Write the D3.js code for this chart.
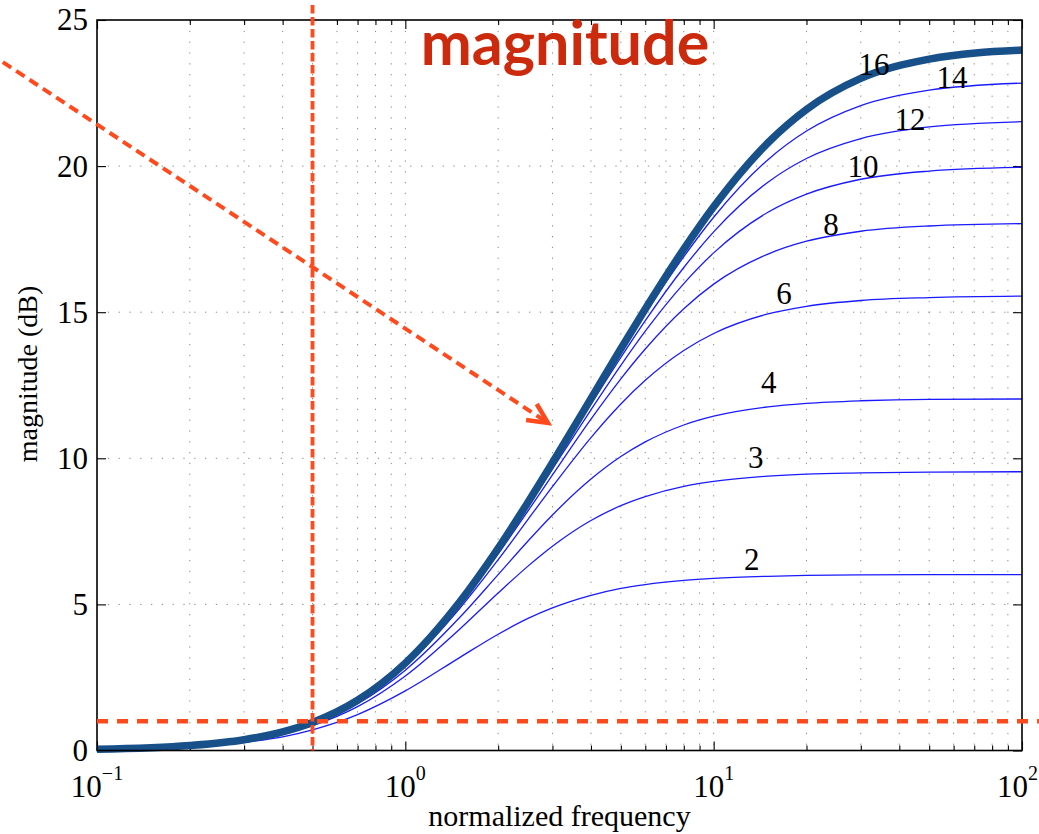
<!DOCTYPE html>
<html>
<head>
<meta charset="utf-8">
<script src="https://cdn.jsdelivr.net/npm/d3@7"></script>
<style>
  html, body { margin: 0; padding: 0; background: #fff; }
  svg { display: block; }
</style>
</head>
<body>
<svg id="chart" width="1039" height="834"></svg>
<script>
// Normalized frequencies at which each response is sampled
const freqs = [0.1, 0.2, 0.3, 0.4, 0.5, 0.7, 1, 1.5, 2, 2.5, 3, 4, 5, 6, 8, 10, 15, 20, 30, 50, 100];

// Magnitude (dB) for each gain setting
const mag_g2  = [0.03, 0.13, 0.28, 0.47, 0.71, 1.23, 2.04, 3.18, 3.98, 4.52, 4.88, 5.31, 5.55, 5.68, 5.82, 5.89, 5.96, 5.99, 6.01, 6.02, 6.02];
const mag_g3  = [0.04, 0.15, 0.33, 0.57, 0.85, 1.50, 2.55, 4.15, 5.39, 6.31, 6.99, 7.87, 8.38, 8.69, 9.04, 9.21, 9.39, 9.46, 9.50, 9.53, 9.54];
const mag_g4  = [0.04, 0.16, 0.35, 0.60, 0.90, 1.60, 2.75, 4.55, 6.02, 7.17, 8.06, 9.29, 10.06, 10.56, 11.14, 11.44, 11.76, 11.88, 11.97, 12.02, 12.03];
const mag_g6  = [0.04, 0.17, 0.36, 0.63, 0.94, 1.67, 2.89, 4.86, 6.53, 7.91, 9.03, 10.71, 11.86, 12.67, 13.69, 14.27, 14.94, 15.20, 15.40, 15.50, 15.55];
const mag_g8  = [0.04, 0.17, 0.37, 0.63, 0.95, 1.70, 2.94, 4.97, 6.73, 8.20, 9.43, 11.34, 12.72, 13.74, 15.12, 15.96, 16.99, 17.43, 17.77, 17.95, 18.03];
const mag_g10 = [0.04, 0.17, 0.37, 0.64, 0.96, 1.71, 2.97, 5.02, 6.82, 8.34, 9.63, 11.66, 13.18, 14.35, 15.98, 17.03, 18.42, 19.04, 19.55, 19.83, 19.96];
const mag_g12 = [0.04, 0.17, 0.37, 0.64, 0.96, 1.72, 2.98, 5.05, 6.87, 8.42, 9.74, 11.85, 13.45, 14.71, 16.53, 17.75, 19.45, 20.26, 20.94, 21.34, 21.52];
const mag_g14 = [0.04, 0.17, 0.37, 0.64, 0.96, 1.72, 2.99, 5.07, 6.90, 8.47, 9.80, 11.96, 13.63, 14.95, 16.90, 18.25, 20.22, 21.20, 22.07, 22.60, 22.84];
const mag_g16 = [0.04, 0.17, 0.37, 0.64, 0.96, 1.72, 2.99, 5.08, 6.92, 8.50, 9.85, 12.04, 13.75, 15.11, 17.16, 18.61, 20.80, 21.94, 23.00, 23.66, 23.97];

const gains = [2, 3, 4, 6, 8, 10, 12, 14, 16];
const magnitudes = [mag_g2, mag_g3, mag_g4, mag_g6, mag_g8, mag_g10, mag_g12, mag_g14, mag_g16];

// Where each gain label sits (frequency, dB of the text baseline)
const labelFreq = [13.3, 13.7, 15.1, 16.9, 24.0, 30.5, 43.3, 59.3, 33.1];
const labelDb   = [6.18, 9.67, 12.24, 15.28, 17.64, 19.63, 21.24, 22.67, 23.12];

// Axis ticks
const yTicks = [0, 5, 10, 15, 20, 25];
const xMajor = [0.1, 1, 10, 100];
const xExponents = ["\u22121", "0", "1", "2"];
const xMinor = [];
[0.1, 1, 10].forEach(d => { for (let k = 2; k <= 9; k++) xMinor.push(+(d * k).toPrecision(3)); });

// Reference markers: corner frequency, 1 dB level, and the pointer arrow
const cornerFreq = 0.5;
const levelDb = 1;
const arrowFreq = [0.0495, 2.90];
const arrowDb   = [23.56, 11.21];

const svg = d3.select("#chart");
const W = 1039, H = 834;
const mLeft = 97, mRight = 1022, mTop = 20, mBottom = 750.5;

const x = d3.scaleLog().domain([0.1, 100]).range([mLeft, mRight]);
const y = d3.scaleLinear().domain([0, 25]).range([mBottom, mTop]);

const serif = "'Liberation Serif', 'Times New Roman', serif";
const red = "#ff4a1e";

// grid
const grid = svg.append("g");
const gridStyle = s => s.attr("stroke", "#8a8a8a").attr("stroke-width", 1).attr("stroke-dasharray", "1.3,9.5");
grid.selectAll("line.v").data(xMinor.concat([1, 10])).join("line")
  .attr("x1", d => x(d)).attr("x2", d => x(d))
  .attr("y1", mTop).attr("y2", mBottom)
  .call(gridStyle);
grid.selectAll("line.h").data([5, 10, 15, 20]).join("line")
  .attr("x1", mLeft).attr("x2", mRight)
  .attr("y1", d => y(d)).attr("y2", d => y(d))
  .call(gridStyle);

// ticks (pointing into the plot on all four sides)
function ticks(axis, vals, size, transform) {
  const g = svg.append("g").attr("transform", transform)
    .call(axis.tickValues(vals).tickSizeInner(-size).tickSizeOuter(0).tickFormat(""));
  g.select(".domain").remove();
  g.selectAll(".tick line").attr("stroke", "#000").attr("stroke-width", 1.1);
  return g;
}
ticks(d3.axisBottom(x), xMajor, 9, `translate(0,${mBottom})`);
ticks(d3.axisBottom(x), xMinor, 5, `translate(0,${mBottom})`);
ticks(d3.axisTop(x), xMajor, 9, `translate(0,${mTop})`);
ticks(d3.axisTop(x), xMinor, 5, `translate(0,${mTop})`);
ticks(d3.axisRight(y), yTicks, 9, `translate(${mRight},0)`);

// left axis with labels
const yAxis = svg.append("g").attr("transform", `translate(${mLeft},0)`)
  .call(d3.axisLeft(y).tickValues(yTicks).tickSizeInner(-9).tickSizeOuter(0).tickPadding(9));
yAxis.select(".domain").remove();
yAxis.selectAll(".tick line").attr("stroke", "#000").attr("stroke-width", 1.1);
yAxis.selectAll(".tick text").attr("font-family", serif).attr("font-size", 31).attr("fill", "#000");

// x tick labels as powers of ten; the last one is kept inside the page edge
const xl = svg.append("g");
xMajor.forEach((v, i) => {
  const last = i === xMajor.length - 1;
  const t = xl.append("text")
    .attr("x", last ? W - 1 : x(v)).attr("y", 797)
    .attr("text-anchor", last ? "end" : "middle")
    .attr("font-family", serif).attr("fill", "#000");
  t.append("tspan").attr("font-size", 31).text("10");
  t.append("tspan").attr("font-size", 20).attr("dy", -17).text(xExponents[i]);
});

// response curves
const line = d3.line()
  .x((d, i) => x(freqs[i]))
  .y(d => y(d))
  .curve(d3.curveMonotoneX);

const curves = svg.append("g");
gains.forEach((g, k) => {
  if (g === 16) return;
  curves.append("path")
    .attr("d", line(magnitudes[k]))
    .attr("fill", "none")
    .attr("stroke", "#1a1aff")
    .attr("stroke-width", 1.3);
});
curves.append("path")
  .attr("d", line(mag_g16))
  .attr("fill", "none")
  .attr("stroke", "#18508a")
  .attr("stroke-width", 7.5);

// gain labels
svg.append("g").selectAll("text").data(gains).join("text")
  .attr("x", (d, i) => x(labelFreq[i]))
  .attr("y", (d, i) => y(labelDb[i]))
  .attr("text-anchor", "middle")
  .attr("font-family", serif).attr("font-size", 31).attr("fill", "#000")
  .text(d => d);

// frame
svg.append("rect")
  .attr("x", mLeft).attr("y", mTop)
  .attr("width", mRight - mLeft).attr("height", mBottom - mTop)
  .attr("fill", "none").attr("stroke", "#000").attr("stroke-width", 1.6);

// axis titles
svg.append("text")
  .attr("x", (mLeft + mRight) / 2).attr("y", 826)
  .attr("text-anchor", "middle")
  .attr("font-family", serif).attr("font-size", 30).attr("fill", "#000")
  .text("normalized frequency");
svg.append("text")
  .attr("transform", `translate(37,374) rotate(-90)`)
  .attr("text-anchor", "middle")
  .attr("font-family", serif).attr("font-size", 28).attr("fill", "#000")
  .text("magnitude (dB)");

// red markers
const marks = svg.append("g").attr("fill", "none").attr("stroke", red);
marks.append("line")
  .attr("x1", x(cornerFreq)).attr("x2", x(cornerFreq))
  .attr("y1", 5).attr("y2", y(0))
  .attr("stroke-width", 3.8).attr("stroke-dasharray", "8.5,3.5");
marks.append("line")
  .attr("x1", x(0.1)).attr("x2", W)
  .attr("y1", y(levelDb)).attr("y2", y(levelDb))
  .attr("stroke-width", 4.5).attr("stroke-dasharray", "11,9");

const ax0 = x(arrowFreq[0]), ay0 = y(arrowDb[0]);
const ax1 = x(arrowFreq[1]), ay1 = y(arrowDb[1]);
marks.append("line")
  .attr("x1", ax0).attr("y1", ay0).attr("x2", ax1).attr("y2", ay1)
  .attr("stroke-width", 4).attr("stroke-dasharray", "10,6");
const ang = Math.atan2(ay1 - ay0, ax1 - ax0) + Math.PI;
const spread = 26 * Math.PI / 180, armLen = 22;
marks.append("path")
  .attr("d", `M${ax1 + armLen * Math.cos(ang - spread)},${ay1 + armLen * Math.sin(ang - spread)}` +
             `L${ax1},${ay1}` +
             `L${ax1 + armLen * Math.cos(ang + spread)},${ay1 + armLen * Math.sin(ang + spread)}`)
  .attr("stroke-width", 4.5).attr("stroke-linejoin", "miter");

// title
svg.append("text")
  .attr("x", 565).attr("y", 65)
  .attr("text-anchor", "middle")
  .attr("font-family", "Lato, 'Open Sans', sans-serif")
  .attr("font-weight", "bold").attr("font-size", 61)
  .attr("fill", "#cc2a0c")
  .text("magnitude");
</script>
</body>
</html>
